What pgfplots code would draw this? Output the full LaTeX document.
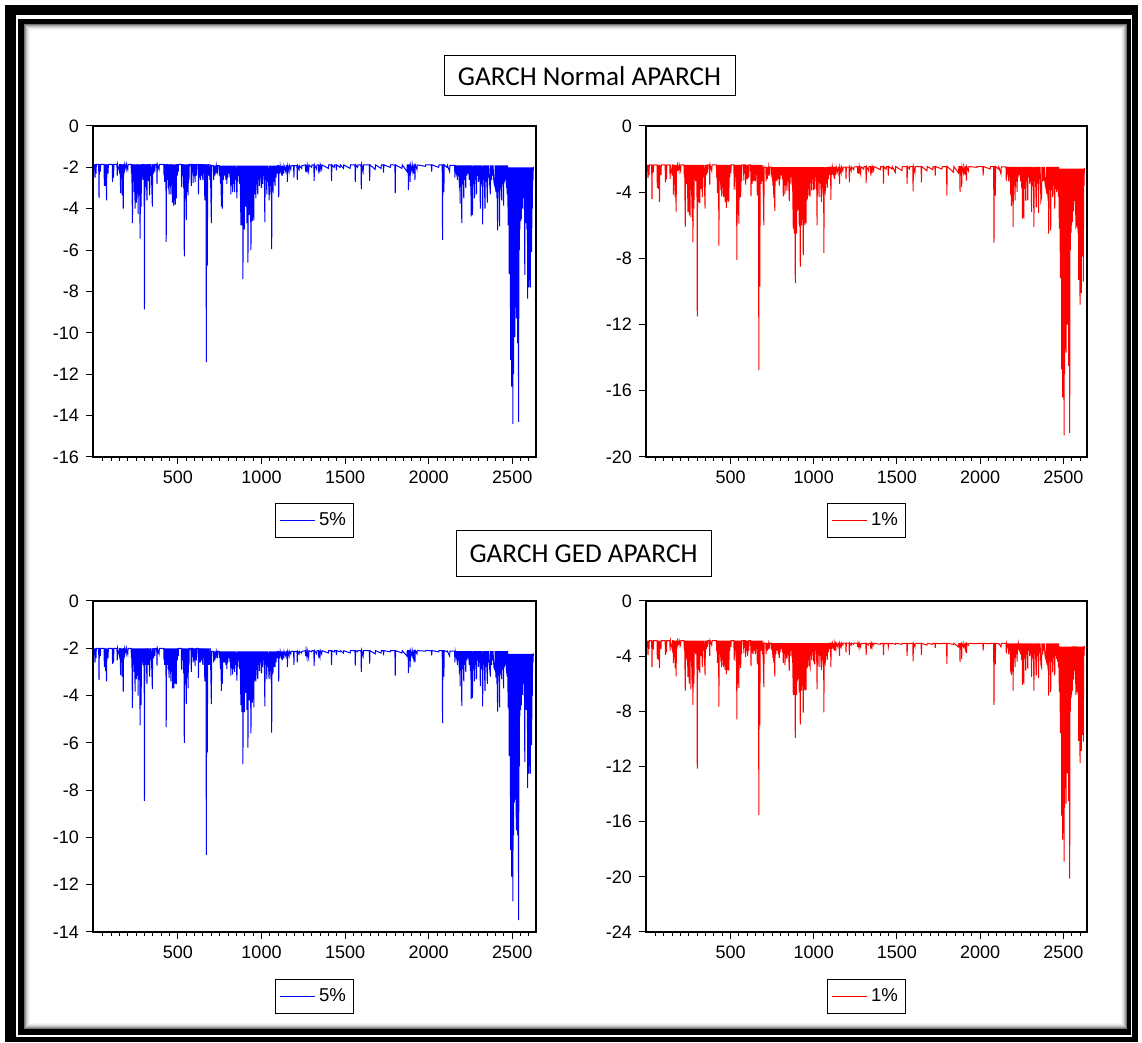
\documentclass[border=0pt]{standalone}
\usepackage{pgfplots}
\pgfplotsset{compat=1.18}
\usepackage{pgfplotstable}
\usepackage{fontspec}
\setmainfont{Liberation Sans}
\newfontfamily\calibri{Carlito}

% columns: x, N5 (Normal 5%), N1 (Normal 1%), G5 (GED 5%), G1 (GED 1%)
\pgfplotstableread{
x a b c d
1 -1.85 -2.35 -2.00 -2.87
4 -2.5 -3.14 -2.6 -3.9
6 -1.85 -2.35 -2.00 -2.87
10 -2.3 -2.97 -2.42 -3.47
12 -1.85 -2.35 -2.00 -2.87
26 -1.85 -2.35 -2.00 -2.87
28 -3.47 -4.42 -3.35 -4.8
30 -1.85 -2.35 -2.00 -2.87
36 -2.2 -2.8 -2.33 -3.5
38 -1.85 -2.35 -2.00 -2.87
58 -1.85 -2.35 -2.00 -2.87
60 -2.9 -3.74 -2.8 -4.2
62 -1.85 -2.35 -2.00 -2.87
64 -2.6 -3.35 -2.7 -3.86
66 -1.85 -2.35 -2.00 -2.87
68 -2.9 -3.8 -2.97 -4.26
70 -1.85 -2.35 -2.00 -2.87
73 -3.6 -4.6 -3.4 -4.86
75 -1.85 -2.35 -2.00 -2.87
82 -2.3 -2.97 -2.42 -3.47
84 -1.85 -2.35 -2.00 -2.87
107 -1.85 -2.35 -2.00 -2.87
109 -2.7 -3.4 -2.66 -3.9
111 -1.85 -2.35 -2.00 -2.87
115 -2.5 -3.23 -2.6 -3.73
117 -1.85 -2.35 -2.00 -2.87
135 -1.85 -2.35 -2.00 -2.87
137 -2.4 -3.2 -2.51 -3.6
139 -1.85 -2.35 -2.00 -2.87
150 -2.2 -3.0 -2.33 -3.5
152 -1.85 -2.35 -2.00 -2.87
155 -1.85 -2.35 -2.00 -2.87
157 -3.25 -4.15 -3.13 -4.5
159 -1.85 -2.35 -2.00 -2.87
163 -2.5 -3.23 -2.6 -3.73
165 -1.85 -2.35 -2.00 -2.87
167 -3.35 -4.3 -3.2 -4.85
169 -1.85 -2.35 -2.00 -2.87
173 -4.0 -5.17 -3.83 -5.47
175 -1.85 -2.35 -2.00 -2.87
180 -2.1 -2.71 -2.24 -3.2
182 -1.85 -2.35 -2.00 -2.87
190 -2.1 -2.71 -2.24 -3.2
192 -1.85 -2.35 -2.00 -2.87
200 -2.1 -2.71 -2.24 -3.2
202 -1.85 -2.35 -2.00 -2.87
220 -1.85 -2.35 -2.00 -2.87
222 -2.3 -2.97 -2.42 -3.47
224 -1.85 -2.35 -2.00 -2.87
228 -4.7 -6.08 -4.53 -6.5
230 -1.85 -2.35 -2.00 -2.87
234 -2.6 -3.35 -2.7 -3.86
236 -1.85 -2.35 -2.00 -2.87
238 -3.2 -3.5 -3.0 -4.3
240 -1.85 -2.35 -2.00 -2.87
244 -4.0 -5.2 -3.83 -5.5
246 -1.85 -2.35 -2.00 -2.87
248 -2.8 -3.61 -2.88 -4.13
250 -1.85 -2.35 -2.00 -2.87
252 -3.7 -5.4 -3.3 -6.0
254 -1.85 -2.35 -2.00 -2.87
258 -3.0 -3.87 -3.06 -4.39
260 -1.85 -2.35 -2.00 -2.87
262 -4.25 -5.5 -4.0 -6.4
264 -1.85 -2.35 -2.00 -2.87
268 -3.3 -4.26 -3.33 -4.79
270 -1.85 -2.35 -2.00 -2.87
274 -5.45 -7.03 -5.26 -7.54
276 -1.85 -2.35 -2.00 -2.87
280 -3.9 -5.0 -4.4 -6.0
282 -1.85 -2.35 -2.00 -2.87
285 -2.5 -3.23 -2.6 -3.73
287 -1.85 -2.35 -2.00 -2.87
291 -2.6 -3.35 -2.7 -3.86
293 -1.85 -2.35 -2.00 -2.87
296 -2.4 -3.2 -2.8 -3.6
298 -1.85 -2.35 -2.00 -2.87
300 -8.87 -11.5 -8.45 -12.16
302 -1.85 -2.35 -2.00 -2.87
308 -2.95 -4.6 -2.7 -5.0
310 -1.85 -2.35 -2.00 -2.87
315 -3.6 -4.66 -3.5 -5.2
317 -1.85 -2.35 -2.00 -2.87
323 -2.65 -3.8 -2.7 -4.0
325 -1.85 -2.35 -2.00 -2.87
331 -3.35 -4.3 -3.2 -4.8
333 -1.85 -2.35 -2.00 -2.87
338 -2.4 -3.1 -2.51 -3.6
340 -1.85 -2.35 -2.00 -2.87
347 -3.9 -5.0 -3.73 -5.4
349 -1.85 -2.35 -2.00 -2.87
355 -2.3 -2.97 -2.42 -3.47
357 -1.85 -2.35 -2.00 -2.87
362 -2.2 -2.84 -2.33 -3.33
364 -1.85 -2.35 -2.00 -2.87
373 -1.85 -2.35 -2.00 -2.87
375 -2.8 -3.55 -2.73 -4.0
377 -1.85 -2.35 -2.00 -2.87
387 -2.1 -2.71 -2.24 -3.2
389 -1.85 -2.35 -2.00 -2.87
415 -1.85 -2.35 -2.00 -2.87
417 -2.4 -3.1 -2.51 -3.6
419 -1.85 -2.35 -2.00 -2.87
421 -2.7 -4.05 -2.7 -4.5
423 -1.85 -2.35 -2.00 -2.87
426 -2.6 -3.35 -2.7 -3.86
428 -1.85 -2.35 -2.00 -2.87
430 -5.6 -7.23 -5.33 -7.66
432 -1.85 -2.35 -2.00 -2.87
436 -2.6 -3.35 -2.7 -3.86
438 -1.85 -2.35 -2.00 -2.87
442 -3.0 -3.87 -2.9 -4.39
444 -1.85 -2.35 -2.00 -2.87
447 -3.3 -4.26 -3.25 -4.79
449 -1.85 -2.35 -2.00 -2.87
452 -2.9 -3.74 -2.97 -4.26
454 -1.85 -2.35 -2.00 -2.87
458 -3.3 -4.3 -3.4 -4.8
460 -1.85 -2.35 -2.00 -2.87
463 -2.6 -3.35 -2.7 -3.86
465 -1.85 -2.35 -2.00 -2.87
467 -3.7 -4.6 -3.7 -5.0
469 -1.85 -2.35 -2.00 -2.87
471 -3.4 -4.39 -3.43 -4.92
473 -1.85 -2.35 -2.00 -2.87
475 -3.85 -4.95 -3.7 -5.3
477 -1.85 -2.35 -2.00 -2.87
480 -3.6 -4.5 -3.5 -5.0
482 -1.85 -2.35 -2.00 -2.87
485 -3.8 -4.6 -3.5 -5.0
487 -1.85 -2.35 -2.00 -2.87
490 -3.5 -4.52 -3.52 -5.05
492 -1.85 -2.35 -2.00 -2.87
496 -2.4 -3.1 -2.51 -3.6
498 -1.85 -2.35 -2.00 -2.87
502 -2.2 -2.84 -2.33 -3.33
504 -1.85 -2.35 -2.00 -2.87
520 -1.85 -2.35 -2.00 -2.87
522 -2.95 -3.85 -2.9 -4.3
524 -1.85 -2.35 -2.00 -2.87
528 -2.4 -3.1 -2.51 -3.6
530 -1.85 -2.35 -2.00 -2.87
534 -3.0 -3.87 -3.06 -4.39
536 -1.85 -2.35 -2.00 -2.87
538 -6.3 -8.1 -6.0 -8.58
540 -1.85 -2.35 -2.00 -2.87
543 -3.5 -5.3 -3.52 -6.0
545 -1.85 -2.35 -2.00 -2.87
550 -4.55 -5.9 -4.36 -6.32
552 -1.85 -2.35 -2.00 -2.87
556 -3.2 -4.3 -3.24 -4.65
558 -1.85 -2.35 -2.00 -2.87
561 -3.35 -4.32 -3.7 -4.85
563 -1.85 -2.35 -2.00 -2.87
566 -2.6 -3.35 -2.7 -3.86
568 -1.85 -2.35 -2.00 -2.87
578 -1.85 -2.35 -2.00 -2.87
580 -2.9 -3.3 -3.0 -3.8
582 -1.85 -2.35 -2.00 -2.87
589 -1.85 -2.35 -2.00 -2.87
591 -2.75 -3.55 -2.6 -4.06
593 -1.85 -2.35 -2.00 -2.87
597 -2.4 -3.2 -2.51 -3.6
599 -1.85 -2.35 -2.00 -2.87
603 -2.7 -3.2 -2.75 -3.99
605 -1.85 -2.35 -2.00 -2.87
610 -2.4 -3.1 -2.51 -3.6
612 -1.85 -2.35 -2.00 -2.87
621 -1.85 -2.35 -2.00 -2.87
623 -3.3 -4.25 -3.25 -4.7
625 -1.85 -2.35 -2.00 -2.87
630 -2.5 -3.5 -2.6 -3.73
632 -1.85 -2.35 -2.00 -2.87
635 -2.6 -3.35 -2.6 -3.86
637 -1.85 -2.35 -2.00 -2.87
642 -2.4 -3.3 -2.51 -3.6
644 -1.85 -2.35 -2.00 -2.87
649 -2.6 -3.35 -2.7 -3.86
651 -1.85 -2.35 -2.00 -2.87
655 -2.3 -2.97 -2.42 -3.47
657 -1.85 -2.35 -2.00 -2.87
661 -3.6 -4.2 -3.4 -4.6
663 -1.85 -2.35 -2.00 -2.87
666 -2.5 -3.23 -2.6 -3.73
668 -1.85 -2.35 -2.00 -2.87
670 -11.42 -14.75 -10.74 -15.5
672 -1.85 -2.35 -2.00 -2.87
676 -6.74 -9.7 -6.4 -9.0
678 -1.85 -2.35 -2.00 -2.87
683 -2.4 -3.5 -2.7 -3.6
685 -1.85 -2.35 -2.00 -2.87
692 -2.6 -3.35 -2.7 -3.86
694 -1.85 -2.35 -2.00 -2.87
700 -4.7 -6.0 -4.36 -6.25
702 -1.92 -2.48 -2.13 -3.05
712 -1.92 -2.48 -2.13 -3.05
714 -2.6 -3.35 -2.6 -3.86
716 -1.92 -2.48 -2.13 -3.05
721 -2.4 -3.2 -2.51 -3.6
723 -1.92 -2.48 -2.13 -3.05
728 -2.3 -3.0 -2.42 -3.5
730 -1.92 -2.48 -2.13 -3.05
736 -2.2 -2.84 -2.33 -3.33
738 -1.92 -2.48 -2.13 -3.05
746 -1.92 -2.48 -2.13 -3.05
748 -2.4 -3.1 -2.4 -3.6
750 -1.92 -2.48 -2.13 -3.05
755 -2.8 -3.61 -2.88 -4.13
757 -1.92 -2.48 -2.13 -3.05
760 -3.9 -4.35 -3.8 -4.5
762 -1.92 -2.48 -2.13 -3.05
766 -4.0 -5.13 -3.5 -5.47
768 -1.92 -2.48 -2.13 -3.05
772 -2.6 -3.35 -2.6 -3.86
774 -1.92 -2.48 -2.13 -3.05
780 -2.4 -3.3 -2.6 -3.6
782 -1.92 -2.48 -2.13 -3.05
787 -2.6 -3.2 -2.7 -3.86
789 -1.92 -2.48 -2.13 -3.05
793 -2.8 -3.61 -2.88 -4.13
795 -1.92 -2.48 -2.13 -3.05
798 -2.5 -3.23 -2.6 -3.73
800 -1.92 -2.48 -2.13 -3.05
805 -2.3 -2.97 -2.42 -3.47
807 -1.92 -2.48 -2.13 -3.05
812 -2.5 -3.23 -2.6 -3.73
814 -1.92 -2.48 -2.13 -3.05
817 -3.3 -4.25 -3.16 -4.5
819 -1.92 -2.48 -2.13 -3.05
823 -2.6 -3.6 -2.7 -3.86
825 -1.92 -2.48 -2.13 -3.05
827 -3.2 -4.13 -3.1 -4.65
829 -1.92 -2.48 -2.13 -3.05
833 -2.8 -3.61 -2.88 -4.13
835 -1.92 -2.48 -2.13 -3.05
839 -3.2 -3.9 -3.0 -4.2
841 -1.92 -2.48 -2.13 -3.05
845 -2.6 -3.35 -2.7 -3.86
847 -1.92 -2.48 -2.13 -3.05
853 -3.5 -4.52 -3.37 -5.05
855 -1.92 -2.48 -2.13 -3.05
858 -2.7 -3.48 -2.79 -3.99
860 -1.92 -2.48 -2.13 -3.05
864 -2.4 -3.1 -2.51 -3.6
866 -1.92 -2.48 -2.13 -3.05
870 -2.8 -3.61 -2.88 -4.13
872 -1.92 -2.48 -2.13 -3.05
874 -3.2 -4.13 -3.24 -4.65
877 -4.8 -6.2 -4.4 -6.8
879 -1.92 -2.48 -2.13 -3.05
881 -3.5 -4.52 -3.52 -5.05
883 -4.8 -6.5 -4.7 -6.8
885 -1.92 -2.48 -2.13 -3.05
887 -3.0 -3.87 -3.06 -4.39
889 -7.4 -9.5 -6.9 -9.92
891 -1.92 -2.48 -2.13 -3.05
893 -4.0 -5.16 -3.97 -5.71
895 -1.92 -2.48 -2.13 -3.05
897 -5.0 -6.5 -4.7 -6.8
899 -1.92 -2.48 -2.13 -3.05
901 -3.4 -4.39 -3.43 -4.92
903 -1.92 -2.48 -2.13 -3.05
905 -3.9 -5.03 -3.88 -5.58
907 -3.8 -5.0 -3.8 -5.5
909 -1.92 -2.48 -2.13 -3.05
911 -3.2 -4.13 -3.24 -4.65
913 -4.7 -6.06 -4.61 -6.63
915 -1.92 -2.48 -2.13 -3.05
917 -3.6 -4.64 -3.61 -5.18
919 -6.6 -8.5 -6.2 -8.95
921 -1.92 -2.48 -2.13 -3.05
923 -3.8 -4.9 -3.79 -5.45
925 -1.92 -2.48 -2.13 -3.05
927 -4.3 -6.0 -4.2 -6.5
929 -1.92 -2.48 -2.13 -3.05
931 -3.5 -4.52 -3.52 -5.05
933 -1.92 -2.48 -2.13 -3.05
935 -4.0 -5.16 -3.97 -5.71
937 -6.0 -7.8 -5.6 -8.1
939 -1.92 -2.48 -2.13 -3.05
941 -3.3 -4.26 -3.33 -4.79
943 -1.92 -2.48 -2.13 -3.05
946 -4.6 -6.0 -4.3 -6.5
948 -1.92 -2.48 -2.13 -3.05
950 -3.5 -4.52 -3.52 -5.05
952 -1.92 -2.48 -2.13 -3.05
954 -4.55 -5.87 -4.5 -6.44
956 -1.92 -2.48 -2.13 -3.05
958 -3.0 -4.5 -3.4 -4.9
960 -1.92 -2.48 -2.13 -3.05
962 -3.3 -4.4 -3.3 -4.79
964 -1.92 -2.48 -2.13 -3.05
966 -3.5 -4.2 -3.4 -4.7
968 -1.92 -2.48 -2.13 -3.05
970 -2.8 -3.61 -2.88 -4.13
972 -1.92 -2.48 -2.13 -3.05
975 -3.0 -4.1 -3.06 -4.6
978 -3.3 -4.26 -3.3 -4.79
980 -1.92 -2.48 -2.13 -3.05
983 -2.6 -3.35 -2.7 -3.86
985 -1.92 -2.48 -2.13 -3.05
988 -2.9 -3.9 -2.97 -4.26
990 -2.6 -3.35 -2.6 -3.86
992 -1.92 -2.48 -2.13 -3.05
995 -2.5 -3.23 -2.6 -3.73
997 -1.92 -2.48 -2.13 -3.05
1000 -3.0 -3.87 -3.06 -4.39
1002 -1.92 -2.48 -2.13 -3.05
1006 -2.8 -3.8 -2.8 -4.6
1008 -1.92 -2.48 -2.13 -3.05
1012 -2.4 -3.1 -2.51 -3.6
1014 -1.92 -2.48 -2.13 -3.05
1018 -3.0 -3.87 -3.06 -4.39
1020 -4.65 -6.0 -4.46 -6.4
1022 -1.92 -2.48 -2.13 -3.05
1026 -2.6 -3.35 -2.7 -3.86
1028 -1.92 -2.48 -2.13 -3.05
1032 -3.3 -4.3 -3.3 -4.79
1034 -1.92 -2.48 -2.13 -3.05
1038 -2.7 -3.48 -2.79 -3.99
1040 -1.92 -2.48 -2.13 -3.05
1044 -3.1 -4.0 -3.15 -4.52
1046 -3.6 -4.6 -3.3 -5.0
1048 -1.92 -2.48 -2.13 -3.05
1052 -2.9 -3.74 -2.97 -4.26
1054 -1.92 -2.48 -2.13 -3.05
1057 -3.3 -4.26 -3.33 -4.79
1059 -1.92 -2.48 -2.13 -3.05
1061 -5.95 -7.66 -5.57 -8.07
1063 -1.92 -2.48 -2.13 -3.05
1066 -3.0 -3.87 -3.06 -4.39
1069 -3.1 -4.0 -3.0 -4.52
1071 -1.92 -2.48 -2.13 -3.05
1075 -2.7 -3.48 -2.79 -3.99
1077 -1.92 -2.48 -2.13 -3.05
1081 -2.9 -3.74 -2.8 -4.26
1083 -1.92 -2.48 -2.13 -3.05
1087 -2.5 -3.23 -2.6 -3.73
1089 -1.92 -2.48 -2.13 -3.05
1094 -2.3 -2.97 -2.42 -3.47
1096 -1.92 -2.48 -2.13 -3.05
1101 -1.92 -2.48 -2.13 -3.05
1103 -3.45 -4.46 -3.4 -4.8
1105 -1.92 -2.48 -2.13 -3.05
1110 -2.3 -2.97 -2.42 -3.47
1112 -1.92 -2.48 -2.13 -3.05
1118 -2.2 -2.84 -2.33 -3.33
1120 -1.92 -2.48 -2.13 -3.05
1125 -2.4 -3.2 -2.5 -3.6
1127 -1.92 -2.48 -2.13 -3.05
1133 -2.3 -2.97 -2.42 -3.47
1135 -1.92 -2.48 -2.13 -3.05
1145 -2.2 -2.84 -2.33 -3.33
1147 -1.92 -2.48 -2.13 -3.05
1153 -1.92 -2.48 -2.13 -3.05
1155 -2.7 -3.5 -2.8 -4.0
1157 -1.92 -2.48 -2.13 -3.05
1165 -2.2 -2.84 -2.33 -3.33
1167 -1.92 -2.48 -2.13 -3.05
1175 -2.1 -2.71 -2.24 -3.2
1177 -1.92 -2.48 -2.13 -3.05
1192 -1.92 -2.48 -2.13 -3.05
1194 -2.5 -3.2 -2.7 -3.73
1196 -1.92 -2.48 -2.13 -3.05
1212 -1.92 -2.48 -2.13 -3.05
1214 -2.6 -3.4 -2.6 -3.9
1216 -1.92 -2.48 -2.13 -3.05
1225 -2.1 -2.71 -2.24 -3.2
1227 -1.92 -2.48 -2.13 -3.05
1240 -2.05 -2.64 -2.2 -3.14
1242 -1.92 -2.48 -2.13 -3.05
1262 -1.88 -2.45 -2.10 -3.07
1264 -2.2 -2.84 -2.33 -3.33
1266 -1.88 -2.45 -2.10 -3.07
1272 -2.25 -2.9 -2.38 -3.4
1274 -1.88 -2.45 -2.10 -3.07
1282 -2.2 -2.9 -2.4 -3.33
1284 -1.88 -2.45 -2.10 -3.07
1300 -2.0 -2.6 -2.15 -3.1
1302 -1.88 -2.45 -2.10 -3.07
1313 -1.88 -2.45 -2.10 -3.07
1315 -2.65 -3.45 -2.74 -3.93
1317 -1.88 -2.45 -2.10 -3.07
1330 -2.1 -2.71 -2.24 -3.2
1332 -1.88 -2.45 -2.10 -3.07
1341 -1.88 -2.45 -2.10 -3.07
1343 -2.3 -3.0 -2.42 -3.47
1345 -1.88 -2.45 -2.10 -3.07
1350 -2.2 -2.84 -2.33 -3.33
1352 -1.88 -2.45 -2.10 -3.07
1360 -2.1 -2.71 -2.24 -3.2
1362 -1.88 -2.45 -2.10 -3.07
1400 -2.05 -2.64 -2.2 -3.14
1402 -1.88 -2.45 -2.10 -3.07
1417 -1.88 -2.45 -2.10 -3.07
1419 -2.65 -3.48 -2.7 -3.93
1421 -1.88 -2.45 -2.10 -3.07
1435 -2.0 -2.6 -2.15 -3.1
1437 -1.88 -2.45 -2.10 -3.07
1446 -1.88 -2.45 -2.10 -3.07
1448 -2.15 -3.0 -2.29 -3.3
1450 -1.88 -2.45 -2.10 -3.07
1470 -2.0 -2.6 -2.15 -3.1
1472 -1.88 -2.45 -2.10 -3.07
1490 -2.05 -2.8 -2.2 -3.14
1492 -1.88 -2.45 -2.10 -3.07
1530 -2.05 -2.7 -2.2 -3.14
1532 -1.88 -2.45 -2.10 -3.07
1559 -1.88 -2.45 -2.10 -3.07
1561 -2.7 -3.5 -2.73 -4.0
1563 -1.88 -2.45 -2.10 -3.07
1575 -2.0 -2.6 -2.15 -3.1
1577 -1.88 -2.45 -2.10 -3.07
1595 -1.88 -2.45 -2.10 -3.07
1597 -3.05 -3.95 -3.0 -4.38
1599 -1.88 -2.45 -2.10 -3.07
1608 -2.2 -2.84 -2.33 -3.33
1610 -1.88 -2.45 -2.10 -3.07
1645 -1.88 -2.45 -2.10 -3.07
1647 -2.65 -3.4 -2.65 -3.9
1649 -1.88 -2.45 -2.10 -3.07
1680 -2.1 -2.71 -2.24 -3.2
1682 -1.88 -2.45 -2.10 -3.07
1715 -2.05 -2.64 -2.2 -3.14
1717 -1.88 -2.45 -2.10 -3.07
1728 -1.88 -2.45 -2.10 -3.07
1730 -2.25 -3.0 -2.3 -3.4
1732 -1.88 -2.45 -2.10 -3.07
1770 -2.0 -2.6 -2.15 -3.1
1772 -1.88 -2.45 -2.10 -3.07
1798 -1.88 -2.45 -2.10 -3.07
1800 -3.25 -4.2 -3.16 -4.57
1802 -1.88 -2.45 -2.10 -3.07
1840 -2.05 -2.8 -2.2 -3.14
1842 -1.88 -2.45 -2.10 -3.07
1870 -2.2 -2.84 -2.33 -3.33
1872 -1.88 -2.45 -2.10 -3.07
1877 -1.88 -2.45 -2.10 -3.07
1879 -3.1 -4.0 -3.05 -4.43
1881 -1.88 -2.45 -2.10 -3.07
1887 -1.88 -2.45 -2.10 -3.07
1889 -2.7 -3.7 -2.8 -4.2
1891 -1.88 -2.45 -2.10 -3.07
1900 -2.2 -2.84 -2.33 -3.33
1902 -1.88 -2.45 -2.10 -3.07
1910 -2.3 -2.97 -2.42 -3.47
1912 -1.88 -2.45 -2.10 -3.07
1916 -1.88 -2.45 -2.10 -3.07
1918 -2.6 -3.3 -2.6 -3.8
1920 -1.88 -2.45 -2.10 -3.07
1930 -2.1 -2.71 -2.24 -3.2
1932 -1.88 -2.45 -2.10 -3.07
1980 -1.95 -2.5 -2.12 -3.1
1982 -1.88 -2.45 -2.10 -3.07
2016 -1.88 -2.45 -2.10 -3.07
2018 -2.2 -3.0 -2.3 -3.6
2020 -1.88 -2.45 -2.10 -3.07
2060 -2.0 -2.6 -2.15 -3.1
2062 -1.88 -2.45 -2.10 -3.07
2081 -1.88 -2.45 -2.10 -3.07
2083 -5.5 -7.05 -5.17 -7.54
2085 -1.88 -2.45 -2.10 -3.07
2089 -1.88 -2.45 -2.10 -3.07
2091 -3.2 -4.2 -3.2 -4.6
2093 -1.88 -2.45 -2.10 -3.07
2110 -2.0 -2.6 -2.15 -3.1
2112 -1.90 -2.47 -2.12 -3.08
2125 -2.2 -2.9 -2.33 -3.33
2127 -1.90 -2.47 -2.12 -3.08
2155 -1.90 -2.47 -2.12 -3.08
2157 -2.5 -3.3 -2.6 -3.8
2159 -1.90 -2.47 -2.12 -3.08
2165 -2.2 -2.84 -2.33 -3.33
2167 -1.90 -2.47 -2.12 -3.08
2172 -2.6 -3.35 -2.7 -3.86
2174 -1.90 -2.47 -2.12 -3.08
2178 -2.4 -3.1 -2.51 -3.6
2180 -1.90 -2.47 -2.12 -3.08
2184 -3.0 -4.2 -3.06 -5.2
2186 -1.90 -2.47 -2.12 -3.08
2188 -3.75 -4.84 -3.6 -5.38
2190 -1.90 -2.47 -2.12 -3.08
2194 -2.6 -3.35 -2.7 -3.86
2196 -1.90 -2.47 -2.12 -3.08
2198 -4.7 -6.1 -4.44 -6.5
2200 -1.90 -2.47 -2.12 -3.08
2204 -2.8 -3.61 -2.88 -4.13
2206 -1.90 -2.47 -2.12 -3.08
2210 -3.5 -4.5 -3.4 -4.8
2212 -1.90 -2.47 -2.12 -3.08
2216 -2.6 -3.35 -2.7 -3.86
2218 -1.90 -2.47 -2.12 -3.08
2222 -3.0 -4.0 -3.0 -4.39
2224 -1.90 -2.47 -2.12 -3.08
2228 -2.4 -3.1 -2.51 -3.6
2230 -1.90 -2.47 -2.12 -3.08
2236 -2.3 -2.97 -2.42 -3.47
2238 -1.90 -2.47 -2.12 -3.08
2243 -2.6 -3.35 -2.7 -3.86
2245 -1.90 -2.47 -2.12 -3.08
2250 -2.9 -3.74 -2.97 -4.26
2252 -1.90 -2.47 -2.12 -3.08
2254 -4.37 -5.6 -4.15 -6.08
2256 -1.90 -2.47 -2.12 -3.08
2260 -3.2 -4.13 -3.24 -4.65
2262 -4.3 -5.6 -4.1 -6.0
2264 -1.90 -2.47 -2.12 -3.08
2268 -2.8 -3.8 -2.88 -4.13
2270 -1.90 -2.47 -2.12 -3.08
2274 -3.5 -4.52 -3.4 -5.05
2276 -1.90 -2.47 -2.12 -3.08
2280 -2.6 -3.35 -2.7 -3.86
2282 -1.90 -2.47 -2.12 -3.08
2286 -3.3 -4.5 -3.3 -4.9
2288 -1.90 -2.47 -2.12 -3.08
2292 -2.4 -3.1 -2.51 -3.6
2294 -1.90 -2.47 -2.12 -3.08
2298 -2.7 -3.48 -2.79 -3.99
2300 -1.90 -2.47 -2.12 -3.08
2304 -2.5 -3.23 -2.6 -3.73
2306 -1.90 -2.47 -2.12 -3.08
2309 -4.0 -5.2 -3.6 -5.5
2311 -1.90 -2.47 -2.12 -3.08
2315 -2.8 -3.61 -2.88 -4.13
2317 -1.90 -2.47 -2.12 -3.08
2321 -3.0 -3.87 -3.06 -4.39
2323 -4.75 -6.1 -4.46 -6.5
2325 -1.90 -2.47 -2.12 -3.08
2329 -2.6 -3.35 -2.7 -3.86
2331 -1.90 -2.47 -2.12 -3.08
2337 -4.0 -4.9 -3.8 -5.4
2339 -1.90 -2.47 -2.12 -3.08
2343 -2.7 -3.48 -2.79 -3.99
2345 -1.90 -2.47 -2.12 -3.08
2349 -3.0 -3.87 -3.06 -4.39
2351 -3.7 -5.25 -3.5 -5.6
2353 -1.90 -2.47 -2.12 -3.08
2358 -2.5 -3.23 -2.6 -3.73
2360 -1.90 -2.47 -2.12 -3.08
2365 -2.8 -4.5 -2.88 -4.6
2369 -3.3 -4.3 -3.2 -4.79
2371 -1.90 -2.47 -2.12 -3.08
2376 -2.6 -3.35 -2.7 -3.86
2378 -1.90 -2.47 -2.12 -3.08
2383 -2.4 -3.3 -2.51 -3.6
2385 -1.90 -2.47 -2.12 -3.08
2390 -2.7 -3.48 -2.79 -3.99
2396 -2.9 -3.8 -2.9 -4.26
2398 -1.90 -2.47 -2.12 -3.08
2402 -3.2 -4.13 -3.24 -4.65
2404 -1.90 -2.47 -2.12 -3.08
2408 -3.5 -4.52 -3.52 -5.05
2410 -1.90 -2.47 -2.12 -3.08
2412 -5.05 -6.5 -4.68 -6.86
2414 -1.90 -2.47 -2.12 -3.08
2418 -3.0 -3.87 -3.06 -4.39
2420 -1.90 -2.47 -2.12 -3.08
2424 -4.85 -6.3 -4.5 -6.6
2426 -1.90 -2.47 -2.12 -3.08
2430 -3.0 -3.87 -3.06 -4.39
2432 -1.90 -2.47 -2.12 -3.08
2436 -3.6 -4.3 -3.3 -5.18
2438 -1.90 -2.47 -2.12 -3.08
2442 -2.8 -3.61 -2.88 -4.13
2444 -1.90 -2.47 -2.12 -3.08
2448 -3.85 -5.0 -3.7 -5.4
2450 -1.90 -2.47 -2.12 -3.08
2454 -2.7 -3.8 -2.79 -3.99
2456 -1.90 -2.47 -2.12 -3.08
2460 -2.6 -4.0 -2.7 -4.2
2462 -1.90 -2.47 -2.12 -3.08
2466 -3.0 -3.87 -3.06 -4.39
2468 -1.90 -2.47 -2.12 -3.08
2470 -3.3 -4.26 -3.2 -4.79
2472 -1.90 -2.47 -2.12 -3.08
2474 -3.6 -4.64 -3.61 -5.18
2476 -4.8 -6.2 -4.5 -6.6
2478 -2.00 -2.57 -2.24 -3.30
2480 -4.0 -5.16 -3.97 -5.71
2482 -7.15 -9.2 -6.56 -9.6
2484 -2.00 -2.57 -2.24 -3.30
2486 -5.0 -6.45 -4.88 -7.03
2488 -2.00 -2.57 -2.24 -3.30
2490 -11.3 -14.7 -10.53 -15.56
2492 -2.00 -2.57 -2.24 -3.30
2494 -6.0 -7.74 -5.79 -8.35
2496 -12.6 -16.4 -11.66 -17.3
2498 -2.00 -2.57 -2.24 -3.30
2500 -8.0 -10.32 -7.61 -10.99
2502 -2.00 -2.57 -2.24 -3.30
2504 -14.4 -18.7 -12.7 -18.9
2506 -2.00 -2.57 -2.24 -3.30
2508 -12.0 -15.0 -9.9 -15.0
2510 -2.00 -2.57 -2.24 -3.30
2512 -9.0 -11.61 -8.52 -12.31
2514 -2.00 -2.57 -2.24 -3.30
2516 -10.2 -13.7 -8.4 -14.7
2518 -2.00 -2.57 -2.24 -3.30
2520 -7.5 -9.68 -7.16 -10.33
2522 -2.00 -2.57 -2.24 -3.30
2524 -9.3 -12.0 -9.7 -12.5
2526 -2.00 -2.57 -2.24 -3.30
2528 -6.5 -8.39 -6.25 -9.01
2530 -2.00 -2.57 -2.24 -3.30
2532 -10.5 -14.5 -9.9 -14.5
2534 -2.00 -2.57 -2.24 -3.30
2536 -8.0 -10.32 -7.61 -10.99
2538 -14.3 -18.55 -13.5 -20.13
2540 -2.00 -2.57 -2.24 -3.30
2542 -6.0 -7.5 -7.0 -8.0
2544 -2.00 -2.57 -2.24 -3.30
2546 -5.0 -6.45 -4.88 -7.03
2548 -2.00 -2.57 -2.24 -3.30
2550 -4.6 -6.0 -4.6 -6.8
2552 -2.00 -2.57 -2.24 -3.30
2554 -4.5 -5.8 -4.4 -6.5
2556 -2.00 -2.57 -2.24 -3.30
2558 -3.5 -3.6 -3.4 -3.8
2560 -2.00 -2.57 -2.24 -3.30
2562 -4.0 -5.16 -3.97 -5.71
2564 -2.00 -2.57 -2.24 -3.30
2566 -3.0 -3.87 -3.06 -4.39
2568 -2.00 -2.57 -2.24 -3.30
2570 -3.5 -4.52 -3.52 -5.05
2572 -2.00 -2.57 -2.24 -3.30
2575 -7.2 -6.2 -6.8 -6.8
2577 -2.00 -2.57 -2.24 -3.30
2580 -4.7 -6.06 -4.61 -6.63
2582 -2.00 -2.57 -2.24 -3.30
2584 -3.5 -4.52 -3.52 -5.05
2586 -2.00 -2.57 -2.24 -3.30
2588 -5.0 -6.5 -4.6 -6.8
2590 -2.00 -2.57 -2.24 -3.30
2592 -8.35 -9.3 -7.9 -10.14
2594 -2.00 -2.57 -2.24 -3.30
2596 -5.5 -6.5 -5.34 -6.8
2598 -2.00 -2.57 -2.24 -3.30
2600 -7.8 -10.8 -7.3 -11.75
2602 -2.00 -2.57 -2.24 -3.30
2604 -6.0 -7.74 -5.79 -8.35
2606 -2.00 -2.57 -2.24 -3.30
2608 -7.8 -10.1 -7.3 -10.87
2610 -2.00 -2.57 -2.24 -3.30
2612 -5.5 -7.1 -5.34 -7.69
2614 -2.00 -2.57 -2.24 -3.30
2616 -6.1 -7.9 -6.1 -9.7
2618 -2.00 -2.57 -2.24 -3.30
2620 -4.0 -9.4 -4.0 -10.2
2622 -2.00 -2.57 -2.24 -3.30
2624 -2.6 -3.6 -2.6 -4.0
2626 -2.00 -2.57 -2.24 -3.30
2630 -2.00 -2.57 -2.24 -3.30
}\vardata

\pgfplotsset{
  vpanel/.style={
    scale only axis,
    xmin=-8, xmax=2642,
    ymax=0,
    axis line style={line width=0.7pt},
    tick pos=left,
    tick align=outside,
    tick style={black, line width=0.5pt},
    major tick length=3.5pt,
    minor tick length=2pt,
    xtick={500,1000,1500,2000,2500},
    minor xtick={50,100,...,2600},
    /pgf/number format/assume math mode=true,
    /pgf/number format/1000 sep={},
    every tick label/.append style={font=\fontsize{9}{10}\selectfont},
    clip=true,
    legend image code/.code={\draw[#1,line width=0.5pt] (0pt,0pt) -- (17.5pt,0pt);},
    legend style={draw=black, line width=0.5pt, anchor=north,
      font=\fontsize{9.3}{11}\selectfont, inner xsep=2pt, inner ysep=2.5pt,
      /tikz/every even column/.append style={column sep=1pt}},
  },
}

\begin{document}
\begin{tikzpicture}
\begin{scope}[x=0.5pt,y=-0.5pt,shift={(0pt,521.5pt)}]
  \fill[white] (0,0) rectangle (1142,1043);
  \fill[black] (5,5) rectangle (1138,1042);
  \fill[white] (16,15) rectangle (1132,1037);
  \fill[black] (18,19) rectangle (1131,1035);
  \fill[white] (24,24) rectangle (1127,1029);
  \foreach \i/\c in {0/55,1/38,2/25,3/15,4/8,5/4}
    \draw[black!\c, line width=0.5pt] (24.5+\i,24.5+\i) rectangle (1126.5-\i,1028.5-\i);
  \node[draw=black, line width=0.5pt, minimum width=145.5pt, minimum height=20pt, inner sep=0pt,
        font=\calibri\fontsize{13.6}{16}\selectfont] at (589.5,76) {GARCH Normal APARCH};
  \node[draw=black, line width=0.5pt, minimum width=127.5pt, minimum height=23pt, inner sep=0pt,
        font=\calibri\fontsize{13.6}{16}\selectfont] at (583.5,554) {GARCH GED APARCH};
\end{scope}

% top left: Normal 5%
\begin{axis}[vpanel, at={(46.5pt,293pt)}, anchor=south west,
  width=221.5pt, height=165.5pt, ymin=-16, ytick={-16,-14,...,0},
  legend style={at={(0.5,-0.139)}}]
  \addplot[color={rgb,255:red,0;green,0;blue,255}, line width=0.5pt] table[x=x,y=a] {\vardata};
  \addlegendentry{5\%}
\end{axis}

% top right: Normal 1%
\begin{axis}[vpanel, at={(323pt,293pt)}, anchor=south west,
  width=220.5pt, height=165.5pt, ymin=-20, ytick={-20,-16,...,0},
  legend style={at={(0.5,-0.139)}}]
  \addplot[color={rgb,255:red,255;green,0;blue,0}, line width=0.5pt] table[x=x,y=b] {\vardata};
  \addlegendentry{1\%}
\end{axis}

% bottom left: GED 5%
\begin{axis}[vpanel, at={(46.5pt,55.5pt)}, anchor=south west,
  width=221.5pt, height=165.5pt, ymin=-14, ytick={-14,-12,...,0},
  legend style={at={(0.5,-0.142)}}]
  \addplot[color={rgb,255:red,0;green,0;blue,255}, line width=0.5pt] table[x=x,y=c] {\vardata};
  \addlegendentry{5\%}
\end{axis}

% bottom right: GED 1%
\begin{axis}[vpanel, at={(323pt,55.5pt)}, anchor=south west,
  width=220.5pt, height=165.5pt, ymin=-24, ytick={-24,-20,...,0},
  legend style={at={(0.5,-0.142)}}]
  \addplot[color={rgb,255:red,255;green,0;blue,0}, line width=0.5pt] table[x=x,y=d] {\vardata};
  \addlegendentry{1\%}
\end{axis}
\end{tikzpicture}
\end{document}
